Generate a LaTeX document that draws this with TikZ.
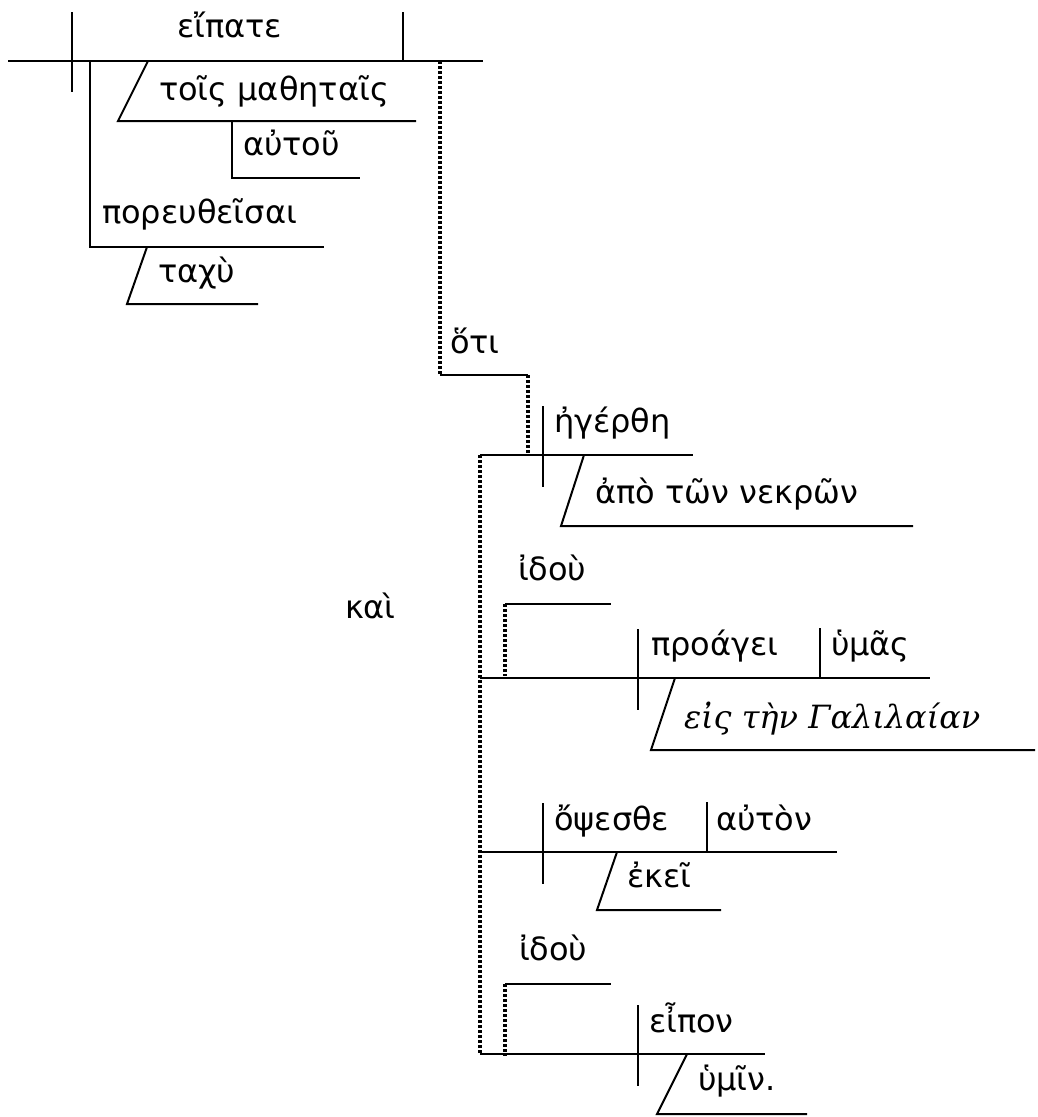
\documentclass[tikz,border=0pt]{standalone}
\usepackage{fontspec}
\setmainfont{DejaVu Sans}
\newfontfamily\grserif{DejaVu Serif}
\usetikzlibrary{calc}

\begin{document}
\begin{tikzpicture}[x=1pt, y=-1pt, line width=2pt,
    word/.style = {anchor=base west, inner sep=0pt, font=\fontsize{32}{36}\selectfont},
    link/.style = {line width=3.2pt, dash pattern=on 2.6pt off 2.4pt}]
  \useasboundingbox (0,0) rectangle (1037,1117);

  % main clause
  \coordinate (m1) at (8,61);
  \coordinate (m2) at (483,61);
  \draw (m1) -- (m2);
  \draw (72,12) -- (72,92);
  \draw (403,12) -- (403,61);
  \node [word] (eipate) at (176,37) {εἴπατε};
  \draw (90,61) -- (90,247) -- (324,247);
  \draw (232,121) -- (232,178) -- (360,178);
  \node [word] (mathetais) at (158,100) {τοῖς μαθηταῖς};
  \node [word] (autou) at (242,155) {αὐτοῦ};
  \node [word] (poreuth) at (101,223) {πορευθεῖσαι};
  \node [word] (tachu) at (157,282) {ταχὺ};

  % hoti clause
  \coordinate (h1) at (440,61);
  \coordinate (h2) at (440,375);
  \coordinate (h3) at (528,375);
  \coordinate (h4) at (528,455);
  \draw [link] (h1) -- (h2);
  \draw (h2) -- (h3);
  \draw [link] (h3) -- (h4);
  \node [word] (hoti) at (449,353) {ὅτι};

  % base lines of the four clauses
  \coordinate (k1) at (480,455);
  \coordinate (k2) at (480,1054);
  \draw [link] (k1) -- (k2);
  \draw (k1) -- (693,455);
  \draw (480,678) -- (930,678);
  \draw (480,852) -- (837,852);
  \draw (k2) -- (765,1054);
  \node [word] (kai) at (344,618) {καὶ};

  % verb dividers
  \foreach \x/\y in {543/455, 638/678, 543/852, 638/1054}
    {
      \draw (\x,\y-49) -- (\x,\y+32);
    }
  % object dividers
  \foreach \x/\y in {820/678, 707/852}
    {
      \draw (\x,\y-50) -- (\x,\y);
    }
  % modifiers on slants
  \foreach \tx/\ty/\bx/\by/\r in {148/61/118/121/416, 147/247/127/304/258,
      584/455/561/526/913, 675/678/651/750/1035, 617/852/597/910/721,
      687/1054/657/1114/807}
    {
      \draw (\tx,\ty) -- (\bx,\by) -- (\r,\by);
    }
  % idou
  \foreach \y in {604, 984}
    {
      \draw (505,\y) -- (611,\y);
      \draw [link] (505,\y) -- (505,\y+72);
    }

  \node [word] (egerthe) at (553,432) {ἠγέρθη};
  \node [word] (nekron) at (594,503) {ἀπὸ τῶν νεκρῶν};
  \node [word] (idou1) at (517,580) {ἰδοὺ};
  \node [word] (proagei) at (650,655) {προάγει};
  \node [word] (humas) at (830,655) {ὑμᾶς};
  \node [word, font=\fontsize{32}{36}\grserif\itshape] (galil) at (683,728) {εἰς τὴν Γαλιλαίαν};
  \node [word] (opsesthe) at (553,830) {ὄψεσθε};
  \node [word] (auton) at (715,830) {αὐτὸν};
  \node [word] (ekei) at (626,887) {ἐκεῖ};
  \node [word] (idou2) at (518,960) {ἰδοὺ};
  \node [word] (eipon) at (648,1032) {εἶπον};
  \node [word] (humin) at (697,1090) {ὑμῖν.};
\end{tikzpicture}
\end{document}
